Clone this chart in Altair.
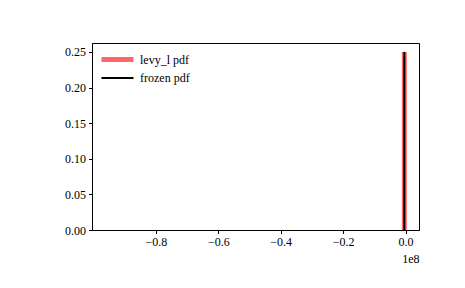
import altair as alt
import pandas as pd

# data (x in units of 1e8)
series = ["levy_l pdf", "levy_l pdf", "frozen pdf", "frozen pdf"]
xs = [-0.004, -0.004, -0.004, -0.004]
ys = [0.0, 0.25, 0.0, 0.25]
order = [0, 1, 0, 1]
x_ticks = [-0.8, -0.6, -0.4, -0.2, 0.0]
y_ticks = [0.0, 0.05, 0.10, 0.15, 0.20, 0.25]

df = pd.DataFrame({"series": series, "x": xs, "y": ys, "o": order})

FONT = "Times New Roman"

chart = alt.Chart(df).mark_line(strokeCap="butt", clip=True).encode(
    x=alt.X("x:Q",
            scale=alt.Scale(domain=[-1.0045, 0.043], nice=False, zero=False),
            axis=alt.Axis(values=x_ticks, format=".1f", title="1e8",
                          titleAnchor="end", titleAlign="right", titleFontWeight="normal",
                          titlePadding=6, grid=False)),
    y=alt.Y("y:Q",
            scale=alt.Scale(domain=[0, 0.2625], nice=False),
            axis=alt.Axis(values=y_ticks, format=".2f", title=None, grid=False)),
    order="o:Q",
    color=alt.Color("series:N",
                    scale=alt.Scale(domain=["levy_l pdf", "frozen pdf"], range=["#ff6666", "#000000"]),
                    legend=alt.Legend(title=None, orient="none", legendX=7, legendY=9,
                                      symbolType="M-1,0H5.4", symbolSize=100,
                                      labelFontSize=12, labelFont=FONT, rowPadding=2,
                                      symbolOffset=0, labelOffset=26)),
    strokeWidth=alt.StrokeWidth("series:N",
                                scale=alt.Scale(domain=["levy_l pdf", "frozen pdf"], range=[5, 2]),
                                legend=None),
).properties(
    width=327, height=187,
    autosize=alt.AutoSizeParams(type="none"),
    padding={"left": 92, "top": 43, "right": 46, "bottom": 58},
).configure_view(
    stroke="black", strokeWidth=1
).configure_axis(
    domainColor="black", tickColor="black", labelColor="black", titleColor="black",
    labelFont=FONT, titleFont=FONT, labelFontSize=12, titleFontSize=12,
    tickSize=3.5, labelPadding=3, domainWidth=1, tickWidth=1,
).configure_legend(
    labelColor="black"
)

chart.save("out.html", embed_options={"renderer": "svg", "actions": False})
